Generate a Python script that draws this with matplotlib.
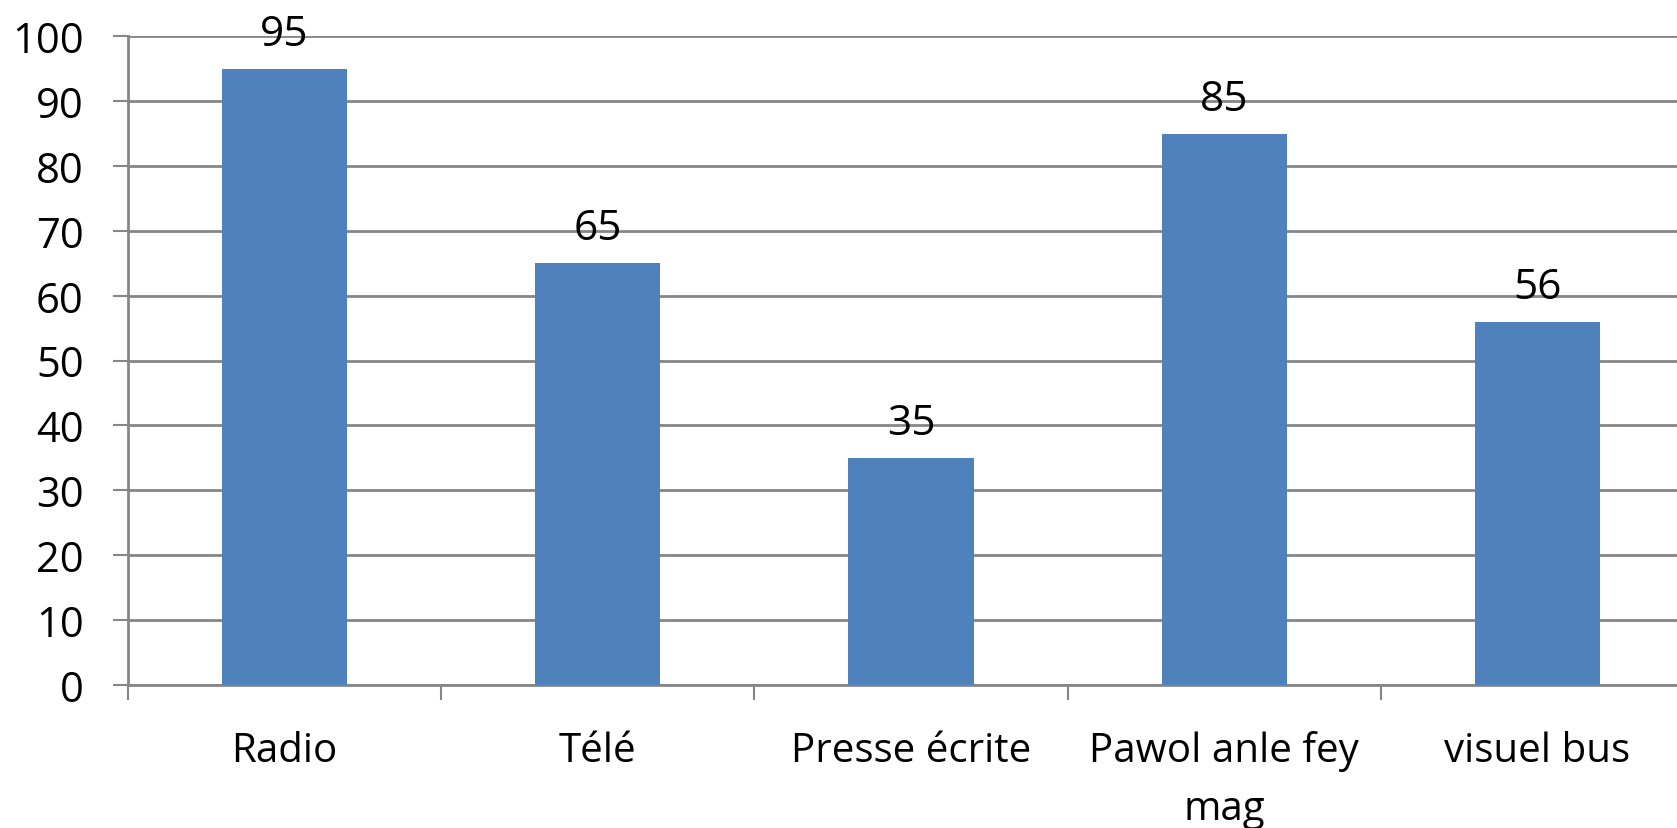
import matplotlib
matplotlib.use("Agg")
import matplotlib.pyplot as plt

categories = ["Radio", "Télé", "Presse écrite", "Pawol anle fey\nmag", "visuel bus"]
values = [95, 65, 35, 85, 56]
yticks = [0, 10, 20, 30, 40, 50, 60, 70, 80, 90, 100]

plt.rcParams['font.family'] = ['Open Sans', 'DejaVu Sans']

W, H = 1677, 829
fig = plt.figure(figsize=(W / 100, H / 100), dpi=100)
left, right = 128 / W, 1694 / W
bottom, top = (H - 685.6) / H, (H - 37.4) / H
ax = fig.add_axes([left, bottom, right - left, top - bottom])

grey = "#868686"
x = list(range(len(categories)))
ax.bar(x, values, width=0.40, color="#4F81BD", zorder=3)
for xi, v in zip(x, values):
    ax.annotate(str(v), (xi, v), xytext=(0, 10), textcoords="offset points",
                ha="center", va="bottom", fontsize=30.5, color="black", zorder=4)

ax.set_xlim(-0.5, len(categories) - 0.5)
ax.set_ylim(0, 100)
ax.set_yticks(yticks)
ax.set_yticklabels([str(t) for t in yticks], fontsize=30)
ax.set_xticks([i - 0.5 for i in range(len(categories) + 1)])
ax.set_xticklabels([])
ax.set_xticks(x, minor=True)
ax.set_xticklabels(categories, minor=True, fontsize=29, linespacing=1.55)
ax.tick_params(axis='x', which='minor', length=0, pad=33)
ax.tick_params(axis='x', which='major', length=11, width=1.5, color=grey, direction='out')
ax.tick_params(axis='y', length=11, width=1.5, color=grey, pad=21)

ax.yaxis.grid(True, color=grey, linewidth=2, zorder=0)
ax.set_axisbelow(True)
for s in ['top', 'right']:
    ax.spines[s].set_visible(False)
for s in ['left', 'bottom']:
    ax.spines[s].set_color(grey)
    ax.spines[s].set_linewidth(2)

fig.savefig("out.png", dpi=100)
